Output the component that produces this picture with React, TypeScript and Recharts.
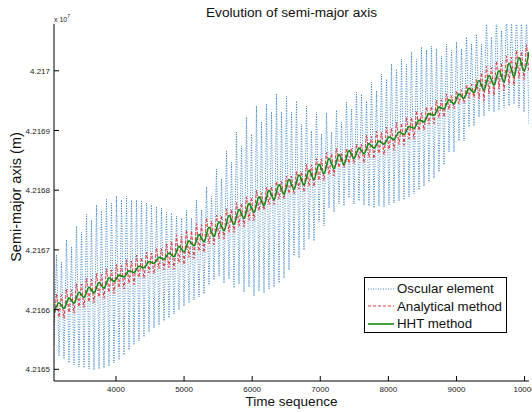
import React from "react";
import { LineChart, Line, XAxis, YAxis } from "recharts";

// Time grid (samples are evenly spaced in time)
const timeStart = 3090;
const timeHalfStep = 36.71;

const xTicks = [4000, 5000, 6000, 7000, 8000, 9000, 10000];
const yTicks = [42165000, 42166000, 42167000, 42168000, 42169000, 42170000];

// Osculating element: successive maxima and minima (m)
const oscularPeaks = [42166915, 42166797, 42167166, 42167049, 42167400, 42167300, 42167601, 42167501, 42167752, 42167652, 42167853, 42167786, 42167903, 42167836, 42167903, 42167836, 42167836, 42167819, 42167786, 42167752, 42167719, 42167702, 42167635, 42167618, 42167568, 42167534, 42167668, 42167534, 42167836, 42167668, 42168054, 42167903, 42168355, 42168188, 42168657, 42168472, 42168975, 42168740, 42169226, 42168941, 42169410, 42169142, 42169444, 42169310, 42169611, 42169310, 42169578, 42169310, 42169494, 42169109, 42169410, 42168992, 42169310, 42168941, 42169293, 42168975, 42169343, 42169142, 42169477, 42169360, 42169645, 42169611, 42169494, 42169812, 42169662, 42169946, 42169863, 42170114, 42170030, 42170198, 42170114, 42170315, 42170198, 42170399, 42170348, 42170415, 42170365, 42170248, 42170449, 42170348, 42170482, 42170365, 42170566, 42170449, 42170616, 42170449, 42170884, 42170566, 42170935, 42170667, 42171018, 42170851, 42171052, 42170884, 42170985];
const oscularTroughs = [42165407, 42165223, 42165173, 42165106, 42165072, 42165039, 42165022, 42165005, 42164988, 42165005, 42165022, 42165055, 42165106, 42165156, 42165240, 42165323, 42165407, 42165474, 42165541, 42165625, 42165692, 42165742, 42165809, 42165859, 42165926, 42165993, 42166060, 42166111, 42166161, 42166211, 42166261, 42166412, 42166496, 42166563, 42166446, 42166513, 42166362, 42166429, 42166295, 42166379, 42166228, 42166312, 42166278, 42166345, 42166379, 42166446, 42166529, 42166663, 42166898, 42166864, 42166998, 42167183, 42167149, 42167467, 42167400, 42167702, 42167635, 42167769, 42167735, 42167869, 42167769, 42167819, 42167752, 42167735, 42167702, 42167735, 42167719, 42167752, 42167786, 42167819, 42167836, 42167886, 42167936, 42168003, 42168070, 42168137, 42168204, 42168305, 42168422, 42168640, 42168640, 42168824, 42168824, 42169059, 42169075, 42169226, 42169243, 42169327, 42169310, 42169343, 42169377, 42169410, 42169444, 42169377, 42169310, 42169092];

// Analytical method: successive maxima and minima (m)
const analyticalPeaks = [42166268, 42166247, 42166346, 42166332, 42166438, 42166426, 42166527, 42166507, 42166606, 42166586, 42166685, 42166665, 42166763, 42166742, 42166837, 42166815, 42166912, 42166872, 42166963, 42166948, 42167035, 42167019, 42167106, 42167143, 42167253, 42167222, 42167338, 42167320, 42167443, 42167422, 42167538, 42167481, 42167585, 42167576, 42167688, 42167681, 42167790, 42167780, 42167889, 42167882, 42167998, 42167955, 42168053, 42168057, 42168148, 42168148, 42168238, 42168235, 42168317, 42168310, 42168435, 42168424, 42168531, 42168525, 42168630, 42168614, 42168703, 42168629, 42168700, 42168698, 42168774, 42168774, 42168920, 42168899, 42168988, 42168966, 42169056, 42169038, 42169136, 42169122, 42169224, 42169220, 42169330, 42169297, 42169397, 42169406, 42169505, 42169515, 42169613, 42169585, 42169668, 42169681, 42169764, 42169776, 42169856, 42169968, 42170080, 42170052, 42170164, 42170135, 42170250, 42170227, 42170344, 42170321, 42170438];
const analyticalTroughs = [42165772, 42165870, 42165849, 42165950, 42165938, 42166044, 42166032, 42166129, 42166110, 42166208, 42166189, 42166287, 42166268, 42166365, 42166343, 42166437, 42166417, 42166535, 42166524, 42166614, 42166597, 42166685, 42166668, 42166703, 42166673, 42166782, 42166752, 42166874, 42166856, 42166979, 42166955, 42167101, 42167085, 42167191, 42167186, 42167297, 42167290, 42167397, 42167388, 42167496, 42167492, 42167652, 42167664, 42167759, 42167761, 42167851, 42167851, 42167942, 42167934, 42168017, 42167967, 42168063, 42168057, 42168164, 42168158, 42168261, 42168238, 42168380, 42168375, 42168447, 42168447, 42168522, 42168453, 42168546, 42168523, 42168613, 42168590, 42168681, 42168667, 42168765, 42168751, 42168857, 42168855, 42168995, 42169006, 42169104, 42169114, 42169213, 42169223, 42169351, 42169364, 42169446, 42169460, 42169542, 42169555, 42169527, 42169499, 42169611, 42169583, 42169694, 42169666, 42169783, 42169760, 42169877, 42169854, 42169971];

// HHT method (m)
const hhtValues = [42165943, 42166116, 42166020, 42166196, 42166109, 42166290, 42166203, 42166375, 42166281, 42166454, 42166360, 42166533, 42166472, 42166578, 42166548, 42166650, 42166621, 42166727, 42166700, 42166806, 42166774, 42166876, 42166844, 42166946, 42166886, 42167059, 42166965, 42167151, 42167069, 42167256, 42167134, 42167380, 42167223, 42167471, 42167323, 42167576, 42167427, 42167677, 42167526, 42167776, 42167630, 42167889, 42167745, 42167997, 42167843, 42168089, 42167933, 42168179, 42168015, 42168255, 42168090, 42168332, 42168181, 42168432, 42168281, 42168529, 42168362, 42168596, 42168429, 42168663, 42168534, 42168705, 42168610, 42168780, 42168705, 42168822, 42168772, 42168891, 42168849, 42168975, 42168933, 42169067, 42169037, 42169174, 42169146, 42169283, 42169255, 42169392, 42169363, 42169514, 42169446, 42169610, 42169541, 42169705, 42169636, 42169837, 42169678, 42169921, 42169762, 42170005, 42169812, 42170127, 42169906, 42170221, 42170000, 42170315];

type Row = { time: number; oscular?: number; analytical?: number; hht?: number };
const data: Row[] = [];
for (let i = 0; i < oscularTroughs.length + oscularPeaks.length; i++) {
  const k = Math.floor(i / 2);
  const even = i % 2 === 0;
  data.push({
    time: timeStart + i * timeHalfStep,
    oscular: even ? oscularTroughs[k] : oscularPeaks[k],
    analytical: even ? analyticalTroughs[k] : analyticalPeaks[k],
    hht: even ? hhtValues[k] : undefined,
  });
}

const FONT = "'Liberation Sans', Arial, Helvetica, sans-serif";
const W = 532;
const H = 413;
const M = { top: 24, right: 3, bottom: 0, left: 0 };
const Y_W = 54;
const X_H = 32;
const xDomain: [number, number] = [3090, 10065];
const yDomain: [number, number] = [42164804, 42170784];

const BLUE = "#3a84cc";
const RED = "#ec3636";
const GREEN = "#128a12";

const fmtY = (v: number) => String(Number((v / 1e7).toFixed(4)));

const BottomTick = (p: any) => (
  <g>
    <line x1={p.x} y1={p.y} x2={p.x} y2={p.y - 5} stroke="#000" strokeWidth={1} />
    <text x={p.x} y={p.y + 11} textAnchor="middle" fontSize={8} fill="#222" fontFamily={FONT}>
      {p.payload.value}
    </text>
  </g>
);
const LeftTick = (p: any) => (
  <g>
    <line x1={p.x} y1={p.y} x2={p.x + 5} y2={p.y} stroke="#000" strokeWidth={1} />
    <text x={p.x - 4} y={p.y + 3} textAnchor="end" fontSize={8} fill="#222" fontFamily={FONT}>
      {fmtY(p.payload.value)}
    </text>
  </g>
);
const TopTick = (p: any) => (
  <line x1={p.x} y1={p.y} x2={p.x} y2={p.y + 5} stroke="#000" strokeWidth={1} />
);
const RightTick = (p: any) => (
  <line x1={p.x} y1={p.y} x2={p.x - 5} y2={p.y} stroke="#000" strokeWidth={1} />
);

const legendItems = [
  { label: "Oscular element", color: BLUE, dash: "1 1.5", width: 1 },
  { label: "Analytical method", color: RED, dash: "3 2", width: 1 },
  { label: "HHT method", color: GREEN, dash: undefined, width: 1.6 },
];

export default function App() {
  return (
    <div style={{ position: "absolute", left: 0, top: 0, width: W, height: H, background: "#fff", fontFamily: FONT }}>
      <LineChart width={W} height={H} data={data} margin={M}>
        <XAxis
          dataKey="time"
          type="number"
          domain={xDomain}
          allowDataOverflow
          ticks={xTicks}
          height={X_H}
          tickSize={0}
          tickMargin={0}
          tickLine={false}
          axisLine={{ stroke: "#000", strokeWidth: 1 }}
          tick={BottomTick}
          interval={0}
        />
        <XAxis
          xAxisId="top"
          orientation="top"
          dataKey="time"
          type="number"
          domain={xDomain}
          allowDataOverflow
          ticks={xTicks}
          height={0}
          tickSize={0}
          tickMargin={0}
          tickLine={false}
          axisLine={{ stroke: "#000", strokeWidth: 1 }}
          tick={TopTick}
          interval={0}
        />
        <YAxis
          type="number"
          domain={yDomain}
          allowDataOverflow
          ticks={yTicks}
          width={Y_W}
          tickSize={0}
          tickMargin={0}
          tickLine={false}
          axisLine={{ stroke: "#000", strokeWidth: 1 }}
          tick={LeftTick}
          interval={0}
        />
        <YAxis
          yAxisId="right"
          orientation="right"
          type="number"
          domain={yDomain}
          allowDataOverflow
          ticks={yTicks}
          width={0}
          tickSize={0}
          tickMargin={0}
          tickLine={false}
          axisLine={{ stroke: "#000", strokeWidth: 1 }}
          tick={RightTick}
          interval={0}
        />
        <Line
          dataKey="oscular"
          type="linear"
          stroke={BLUE}
          strokeWidth={1}
          strokeDasharray="1 1.5"
          dot={false}
          activeDot={false}
          isAnimationActive={false}
        />
        <Line
          dataKey="analytical"
          type="linear"
          stroke={RED}
          strokeWidth={1}
          strokeDasharray="3 2"
          dot={false}
          activeDot={false}
          isAnimationActive={false}
        />
        <Line
          dataKey="hht"
          type="monotone"
          stroke={GREEN}
          strokeWidth={1.6}
          connectNulls
          dot={false}
          activeDot={false}
          isAnimationActive={false}
        />
      </LineChart>

      {/* Title */}
      <div style={{ position: "absolute", left: 54, width: 475, top: 4, textAlign: "center", fontSize: 13.7, lineHeight: "17px", color: "#111" }}>
        Evolution of semi-major axis
      </div>
      {/* exponent */}
      <div style={{ position: "absolute", left: 54, top: 13, fontSize: 7, lineHeight: "8px", color: "#222" }}>
        x 10<sup style={{ fontSize: 5, position: "relative", top: -1 }}>7</sup>
      </div>
      {/* Y label */}
      <div
        style={{
          position: "absolute",
          left: 16,
          top: 197,
          transform: "translate(-50%, -50%) rotate(-90deg)",
          whiteSpace: "nowrap",
          fontSize: 14.5,
          lineHeight: "17px",
          color: "#111",
        }}
      >
        Semi-major axis (m)
      </div>
      {/* X label */}
      <div style={{ position: "absolute", left: 54, width: 475, top: 394, textAlign: "center", fontSize: 13.5, lineHeight: "16px", color: "#111" }}>
        Time sequence
      </div>
      {/* Legend */}
      <div
        style={{
          position: "absolute",
          left: 364,
          top: 277,
          width: 143,
          height: 56,
          boxSizing: "border-box",
          border: "1px solid #000",
          background: "#fff",
        }}
      >
        {legendItems.map((it, i) => (
          <div key={it.label} style={{ position: "absolute", left: 2, top: 2 + i * 17.6, height: 17, display: "flex", alignItems: "center" }}>
            <svg width={28} height={10} style={{ display: "block" }}>
              <line x1={1} y1={5} x2={27} y2={5} stroke={it.color} strokeWidth={it.width} strokeDasharray={it.dash} />
            </svg>
            <span style={{ marginLeft: 2, fontSize: 13.3, lineHeight: "17px", color: "#111", whiteSpace: "nowrap" }}>{it.label}</span>
          </div>
        ))}
      </div>
    </div>
  );
}
